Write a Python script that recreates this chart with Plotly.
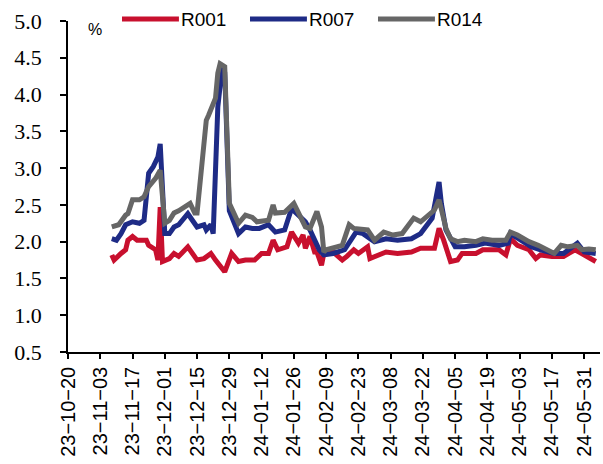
import plotly.graph_objects as go

# Interbank repo fixing rates (%), Nov 2023 - Jun 2024
r001_dates = ["2023-11-08", "2023-11-09", "2023-11-12", "2023-11-14", "2023-11-15", "2023-11-17",
              "2023-11-19", "2023-11-23", "2023-11-24", "2023-11-27", "2023-11-28", "2023-11-29",
              "2023-11-30", "2023-12-03", "2023-12-05", "2023-12-07", "2023-12-11", "2023-12-15",
              "2023-12-18", "2023-12-21", "2023-12-23", "2023-12-27", "2023-12-30", "2024-01-02",
              "2024-01-05", "2024-01-09", "2024-01-12", "2024-01-15", "2024-01-17", "2024-01-19",
              "2024-01-23", "2024-01-25", "2024-01-28", "2024-01-30", "2024-01-31", "2024-02-02",
              "2024-02-04", "2024-02-05", "2024-02-07", "2024-02-08", "2024-02-12", "2024-02-16",
              "2024-02-18", "2024-02-21", "2024-02-23", "2024-02-27", "2024-02-28", "2024-03-03",
              "2024-03-06", "2024-03-11", "2024-03-17", "2024-03-21", "2024-03-27", "2024-03-29",
              "2024-03-31", "2024-04-03", "2024-04-06", "2024-04-08", "2024-04-14", "2024-04-17",
              "2024-04-24", "2024-04-27", "2024-04-29", "2024-05-02", "2024-05-07", "2024-05-10",
              "2024-05-12", "2024-05-17", "2024-05-22", "2024-05-27", "2024-05-30", "2024-06-03",
              "2024-06-05"]
r001_vals = [1.82, 1.75, 1.84, 1.89, 2.02, 2.07,
             2.02, 2.02, 1.95, 1.89, 1.75, 2.47,
             1.73, 1.77, 1.84, 1.80, 1.93, 1.75,
             1.77, 1.84, 1.75, 1.59, 1.84, 1.73,
             1.75, 1.75, 1.84, 1.84, 2.02, 1.89,
             1.93, 2.13, 1.98, 2.09, 1.91, 2.07,
             1.86, 1.86, 1.68, 1.84, 1.86, 1.75,
             1.80, 1.89, 1.84, 1.93, 1.77, 1.82,
             1.86, 1.84, 1.86, 1.91, 1.91, 2.18,
             2.02, 1.73, 1.75, 1.84, 1.84, 1.89,
             1.89, 1.82, 2.04, 1.95, 1.89, 1.77,
             1.82, 1.80, 1.80, 1.89, 1.84, 1.77,
             1.73]

r007_dates = ["2023-11-08", "2023-11-10", "2023-11-12", "2023-11-14", "2023-11-17", "2023-11-20",
              "2023-11-22", "2023-11-24", "2023-11-26", "2023-11-27", "2023-11-28", "2023-11-29",
              "2023-12-01", "2023-12-03", "2023-12-05", "2023-12-07", "2023-12-11", "2023-12-15",
              "2023-12-18", "2023-12-19", "2023-12-21", "2023-12-22", "2023-12-24", "2023-12-26",
              "2023-12-27", "2023-12-29", "2024-01-02", "2024-01-05", "2024-01-08", "2024-01-11",
              "2024-01-15", "2024-01-18", "2024-01-22", "2024-01-25", "2024-01-31", "2024-02-02",
              "2024-02-04", "2024-02-06", "2024-02-08", "2024-02-12", "2024-02-17", "2024-02-20",
              "2024-02-22", "2024-02-25", "2024-03-01", "2024-03-06", "2024-03-11", "2024-03-17",
              "2024-03-21", "2024-03-26", "2024-03-28", "2024-03-29", "2024-03-30", "2024-04-01",
              "2024-04-05", "2024-04-09", "2024-04-14", "2024-04-18", "2024-04-24", "2024-04-28",
              "2024-04-29", "2024-05-04", "2024-05-08", "2024-05-12", "2024-05-18", "2024-05-22",
              "2024-05-28", "2024-05-31", "2024-06-05"]
r007_vals = [2.04, 2.02, 2.11, 2.23, 2.27, 2.25,
             2.29, 2.93, 3.02, 3.11, 3.15, 3.33,
             2.11, 2.11, 2.20, 2.23, 2.38, 2.20,
             2.23, 2.16, 2.23, 2.11, 3.83, 4.40,
             4.30, 2.42, 2.11, 2.20, 2.18, 2.18,
             2.23, 2.13, 2.16, 2.45, 2.27, 2.16,
             2.02, 1.89, 1.82, 1.84, 1.89, 2.02,
             2.13, 2.11, 2.00, 2.04, 2.02, 2.04,
             2.11, 2.32, 2.70, 2.81, 2.52, 2.16,
             1.93, 1.93, 1.95, 1.98, 1.95, 1.98,
             2.11, 2.02, 1.93, 1.89, 1.84, 1.84,
             1.98, 1.86, 1.84]

r014_dates = ["2023-11-08", "2023-11-11", "2023-11-14", "2023-11-15", "2023-11-17", "2023-11-20",
              "2023-11-22", "2023-11-24", "2023-11-27", "2023-11-29", "2023-12-01", "2023-12-03",
              "2023-12-05", "2023-12-07", "2023-12-12", "2023-12-14", "2023-12-15", "2023-12-18",
              "2023-12-19", "2023-12-20", "2023-12-22", "2023-12-23", "2023-12-24", "2023-12-25",
              "2023-12-27", "2023-12-29", "2024-01-02", "2024-01-05", "2024-01-08", "2024-01-10",
              "2024-01-15", "2024-01-17", "2024-01-18", "2024-01-22", "2024-01-26", "2024-01-31",
              "2024-02-02", "2024-02-05", "2024-02-07", "2024-02-08", "2024-02-09", "2024-02-16",
              "2024-02-19", "2024-02-21", "2024-02-27", "2024-03-01", "2024-03-05", "2024-03-09",
              "2024-03-13", "2024-03-18", "2024-03-21", "2024-03-24", "2024-03-27", "2024-03-29",
              "2024-04-01", "2024-04-03", "2024-04-06", "2024-04-09", "2024-04-14", "2024-04-17",
              "2024-04-21", "2024-04-27", "2024-04-29", "2024-05-02", "2024-05-07", "2024-05-11",
              "2024-05-14", "2024-05-18", "2024-05-21", "2024-05-24", "2024-05-28", "2024-05-30",
              "2024-06-02", "2024-06-05"]
r014_vals = [2.20, 2.23, 2.36, 2.38, 2.57, 2.57,
             2.61, 2.75, 2.86, 2.97, 2.25, 2.29,
             2.39, 2.42, 2.52, 2.39, 2.39, 3.47,
             3.65, 3.72, 3.88, 3.95, 4.29, 4.42,
             4.38, 2.52, 2.25, 2.36, 2.33, 2.27,
             2.29, 2.50, 2.39, 2.40, 2.52, 2.20,
             2.18, 2.41, 2.20, 1.86, 1.89, 1.95,
             2.23, 2.18, 2.16, 2.02, 2.13, 2.09,
             2.11, 2.32, 2.27, 2.36, 2.43, 2.57,
             2.18, 2.04, 2.00, 2.02, 2.00, 2.04,
             2.02, 2.02, 2.13, 2.09, 2.00, 1.95,
             1.91, 1.84, 1.95, 1.93, 1.95, 1.89,
             1.90, 1.89]

# x-axis ticks every two weeks
tick_dates = ["2023-10-20", "2023-11-03", "2023-11-17", "2023-12-01", "2023-12-15", "2023-12-29",
              "2024-01-12", "2024-01-26", "2024-02-09", "2024-02-23", "2024-03-08", "2024-03-22",
              "2024-04-05", "2024-04-19", "2024-05-03", "2024-05-17", "2024-05-31"]
tick_labels = [d[2:].replace("-", "\u2212") for d in tick_dates]

series = [
    ("R001", r001_dates, r001_vals, "#C8102E"),
    ("R007", r007_dates, r007_vals, "#1E2B86"),
    ("R014", r014_dates, r014_vals, "#666666"),
]

SANS = "Liberation Sans"
SERIF = "Liberation Serif"

fig = go.Figure()
for name, xs, ys, color in series:
    fig.add_trace(go.Scatter(
        x=xs, y=ys, name=name, mode="lines",
        line=dict(color=color, width=5),
    ))

# Legend row across the top: a short swatch line followed by the series name
legend_left = [0.1015, 0.3421, 0.5827]
swatch_len = 0.107
legend_y = 1.006
shapes = []
annotations = []
for (name, _, _, color), x0 in zip(series, legend_left):
    shapes.append(dict(
        type="line", xref="paper", yref="paper",
        x0=x0, x1=x0 + swatch_len, y0=legend_y, y1=legend_y,
        line=dict(color=color, width=5),
    ))
    annotations.append(dict(
        text=name, xref="paper", yref="paper", x=x0 + swatch_len, y=legend_y,
        xanchor="left", yanchor="middle", showarrow=False,
        font=dict(family=SANS, size=19, color="black"),
    ))

annotations.append(dict(
    text="%", xref="paper", yref="paper", x=0.05, y=0.975,
    xanchor="center", yanchor="middle", showarrow=False,
    font=dict(family=SANS, size=16, color="black"),
))

fig.update_layout(
    width=603, height=464,
    margin=dict(l=68, r=3, t=21, b=112),
    paper_bgcolor="white", plot_bgcolor="white",
    showlegend=False,
    shapes=shapes,
    annotations=annotations,
    xaxis=dict(
        type="date",
        range=["2023-10-20", "2024-06-06 20:00"],
        tickvals=tick_dates, ticktext=tick_labels, tickangle=-90,
        tickfont=dict(family=SANS, size=20, color="black"),
        showline=True, linecolor="black", linewidth=1.5,
        ticks="outside", ticklen=5, tickwidth=1.5, tickcolor="black",
        showgrid=False, zeroline=False,
    ),
    yaxis=dict(
        range=[0.5, 5.0], dtick=0.5, tick0=0.5, tickformat=".1f",
        tickfont=dict(family=SERIF, size=22, color="black"),
        ticklabelstandoff=14,
        showline=True, linecolor="black", linewidth=1.5,
        ticks="outside", ticklen=6, tickwidth=1.5, tickcolor="black",
        showgrid=False, zeroline=False,
    ),
)

fig.write_html("out.html")
